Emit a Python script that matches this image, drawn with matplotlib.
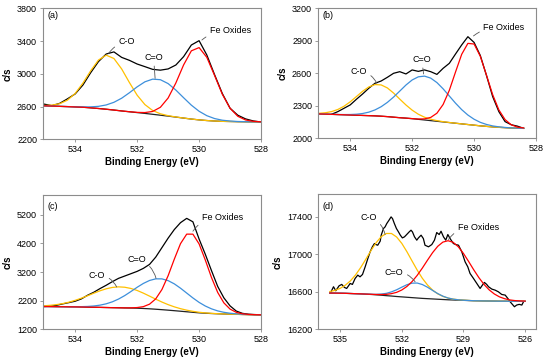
import numpy as np
import matplotlib
matplotlib.use('Agg')
import matplotlib.pyplot as plt

plt.rcParams['font.family'] = ['Liberation Sans', 'DejaVu Sans']

# ---- panel (a) ----
be_a = np.arange(535.0, 527.99, -0.25)
total_a = [2630, 2612, 2640, 2695, 2755, 2864, 3014, 3149, 3242, 3268, 3201, 3165,
           3120, 3088, 3055, 3045, 3060, 3108, 3210, 3352, 3405, 3230, 2990, 2760,
           2580, 2495, 2450, 2425, 2412]
base_a = [2610, 2607, 2603, 2600, 2596, 2592, 2585, 2577, 2568, 2558, 2547, 2537,
          2527, 2517, 2506, 2495, 2484, 2472, 2460, 2448, 2438, 2430, 2424, 2420,
          2418, 2416, 2415, 2414, 2413]
# fitted peaks: centre (eV), height (c/s above background), sigma (eV)
peaks_a = {'C-O': (532.95, 662, 0.63), 'C=O': (531.35, 437, 0.80), 'Fe': (530.05, 886, 0.57)}

# ---- panel (b) ----
be_b = np.arange(535.0, 528.39, -0.2)
total_b = [np.nan, np.nan, 2222, 2246, 2277, 2308, 2360, 2409, 2462, 2508, 2529, 2563,
           2600, 2615, 2594, 2631, 2618, 2631, 2615, 2590, 2646, 2692, 2778, 2862,
           2938, 2885, 2765, 2580, 2385, 2246, 2154, 2125, 2112, 2092]
base_b = [2225, 2223, 2221, 2219, 2217, 2215, 2213, 2211, 2209, 2207, 2204, 2200,
          2195, 2190, 2186, 2181, 2175, 2169, 2163, 2157, 2151, 2145, 2139, 2133,
          2127, 2121, 2115, 2110, 2105, 2101, 2098, 2095, 2093, 2092]
peaks_b = {'C-O': (533.1, 292, 0.68), 'C=O': (531.6, 405, 0.80), 'Fe': (530.1, 764, 0.51)}

# ---- panel (c) ----
be_c = np.arange(535.0, 527.99, -0.2)
total_c = [1998, 2010, 2040, 2090, 2135, 2183, 2264, 2391, 2495, 2622, 2738, 2865,
           2980, 3061, 3142, 3223, 3327, 3466, 3720, 4050, 4380, 4680, 4920, 5070,
           4950, 4350, 3820, 3250, 2700, 2300, 2020, 1840, 1760, 1730, 1718, 1709]
base_c = [1998, 1996, 1993, 1991, 1988, 1986, 1982, 1977, 1973, 1968, 1963, 1958,
          1954, 1949, 1945, 1940, 1930, 1918, 1904, 1888, 1871, 1853, 1834, 1815,
          1796, 1778, 1765, 1754, 1745, 1738, 1732, 1726, 1720, 1715, 1711, 1709]
peaks_c = {'C-O': (532.55, 730, 0.95), 'C=O': (531.25, 1075, 0.85), 'Fe': (530.29, 2760, 0.55)}

# ---- panel (d) ----
be_d_raw = [535.44, 535.32, 535.21, 535.05, 534.92, 534.79, 534.68, 534.51, 534.40, 534.27,
            534.14, 534.03, 533.91, 533.78, 533.65, 533.54, 533.43, 533.33, 533.26, 533.17,
            533.05, 533.00, 532.89, 532.81, 532.73, 532.62, 532.52, 532.45, 532.36, 532.26,
            532.16, 532.07, 531.97, 531.87, 531.76, 531.64, 531.55, 531.48, 531.38, 531.27,
            531.19, 531.06, 530.95, 530.87, 530.70, 530.54, 530.41, 530.30, 530.18, 530.09,
            529.97, 529.86, 529.76, 529.65, 529.49, 529.37, 529.24, 529.08, 528.92, 528.79,
            528.68, 528.51, 528.35, 528.19, 528.08, 527.98, 527.87, 527.78, 527.62, 527.46,
            527.30, 527.14, 526.97, 526.84, 526.73, 526.62, 526.52, 526.41, 526.29, 526.16,
            526.08]
total_d = [16601, 16655, 16612, 16665, 16680, 16648, 16637, 16690, 16680, 16743,
           16779, 16761, 16786, 16868, 16956, 17027, 17081, 17116, 17105, 17098,
           17141, 17205, 17276, 17294, 17329, 17365, 17400, 17382, 17329, 17276,
           17240, 17205, 17176, 17187, 17212, 17240, 17258, 17240, 17187, 17152,
           17176, 17205, 17169, 17098, 17081, 17105, 17152, 17233, 17212, 17247,
           17187, 17152, 17212, 17169, 17116, 17105, 17098, 17027, 16921, 16868,
           16797, 16743, 16690, 16637, 16672, 16701, 16680, 16655, 16630, 16619,
           16601, 16573, 16566, 16530, 16495, 16467, 16442, 16460, 16467, 16460,
           16495]
be_d = np.arange(535.5, 525.99, -0.25)
base_d = [16588, 16587, 16586, 16585, 16583, 16581, 16579, 16576, 16573, 16569,
          16565, 16560, 16556, 16551, 16547, 16543, 16539, 16535, 16531, 16528,
          16525, 16522, 16519, 16516, 16514, 16512, 16510, 16508, 16506, 16505,
          16504, 16503, 16502, 16501, 16501, 16500, 16500, 16500, 16500]
peaks_d = {'C-O': (532.6, 670, 1.06), 'C=O': (531.3, 160, 0.75), 'Fe': (529.74, 630, 1.09)}

colors = {'C-O': '#FFC000', 'C=O': '#3D8FDB', 'Fe': '#FF0000'}


def gauss(x, c, h, s):
    return h * np.exp(-(x - c) ** 2 / (2 * s ** 2))


def panel(ax, be, total, base, peaks, be_tot=None):
    if be_tot is None:
        be_tot = be
    base = np.array(base, dtype=float)
    ax.plot(be_tot, total, color='black', lw=0.9)
    ax.plot(be, base, color='#222222', lw=0.9)
    for key in ['C-O', 'C=O', 'Fe']:
        c, h, s = peaks[key]
        ax.plot(be, base + gauss(be, c, h, s), color=colors[key], lw=0.9)


def style(ax, xlim, ylim, xt, yt, letter, ly):
    ax.set_xlim(*xlim)
    ax.set_ylim(*ylim)
    ax.set_xticks(xt)
    ax.set_yticks(yt)
    for sp in ax.spines.values():
        sp.set_color('#8c8c8c')
        sp.set_linewidth(0.8)
    ax.tick_params(direction='out', length=2.5, width=0.6, color='#8c8c8c',
                   labelsize=6.5, pad=1.5)
    ax.set_xlabel('Binding Energy (eV)', fontsize=7, fontweight='bold', labelpad=2)
    ax.set_ylabel('c/s', fontsize=7, fontweight='bold', labelpad=3)
    ax.text(0.024, ly, letter, transform=ax.transAxes, fontsize=6.5, va='center')


def label(ax, txt, xy, xytext, ha='left', rad=0.2):
    ax.annotate(txt, xy=xy, xytext=xytext, fontsize=6.5, ha=ha, va='center',
                arrowprops=dict(arrowstyle='-', color='#555555', lw=0.6,
                                shrinkA=1, shrinkB=0,
                                connectionstyle='arc3,rad=%s' % rad))


fig = plt.figure(figsize=(5.5, 3.62), dpi=100)
ax_a = fig.add_axes([0.0776, 0.615, 0.397, 0.362])
ax_b = fig.add_axes([0.5776, 0.618, 0.397, 0.359])
ax_c = fig.add_axes([0.0776, 0.090, 0.397, 0.371])
ax_d = fig.add_axes([0.5776, 0.090, 0.397, 0.373])

panel(ax_a, be_a, total_a, base_a, peaks_a)
style(ax_a, (535.05, 528), (2200, 3800), [534, 532, 530, 528], [2200, 2600, 3000, 3400, 3800], '(a)', 0.944)
label(ax_a, 'C-O', (532.92, 3250), (532.6, 3393), rad=0.2)
label(ax_a, 'C=O', (531.42, 2945), (531.47, 3201), ha='center', rad=0)
label(ax_a, 'Fe Oxides', (529.91, 3413), (529.65, 3527), rad=0.2)

panel(ax_b, be_b, total_b, base_b, peaks_b)
style(ax_b, (535.05, 528), (2000, 3200), [534, 532, 530, 528], [2000, 2300, 2600, 2900, 3200], '(b)', 0.944)
label(ax_b, 'C-O', (533.14, 2508), (533.46, 2615), ha='right', rad=-0.3)
label(ax_b, 'C=O', (531.63, 2594), (531.69, 2729), ha='center', rad=0)
label(ax_b, 'Fe Oxides', (530.02, 2945), (529.70, 3025), rad=0.2)

panel(ax_c, be_c, total_c, base_c, peaks_c)
style(ax_c, (535.05, 528), (1200, 5880), [534, 532, 530, 528], [1200, 2200, 3200, 4200, 5200], '(c)', 0.918)
label(ax_c, 'C-O', (532.66, 2680), (533.03, 3096), ha='right', rad=-0.3)
label(ax_c, 'C=O', (531.39, 2980), (531.72, 3639), ha='right', rad=-0.3)
label(ax_c, 'Fe Oxides', (530.2, 4622), (529.91, 5084), rad=0.3)

panel(ax_d, be_d, total_d, base_d, peaks_d, be_tot=be_d_raw)
style(ax_d, (536.09, 525.47), (16200, 17640), [535, 532, 529, 526], [16200, 16600, 17000, 17400], '(d)', 0.914)
label(ax_d, 'C-O', (532.81, 17212), (533.22, 17396), ha='right', rad=-0.3)
label(ax_d, 'C=O', (531.35, 16708), (531.92, 16804), ha='right', rad=-0.3)
label(ax_d, 'Fe Oxides', (529.73, 17159), (529.28, 17290), rad=0.3)

fig.savefig('out.png', dpi=100)
